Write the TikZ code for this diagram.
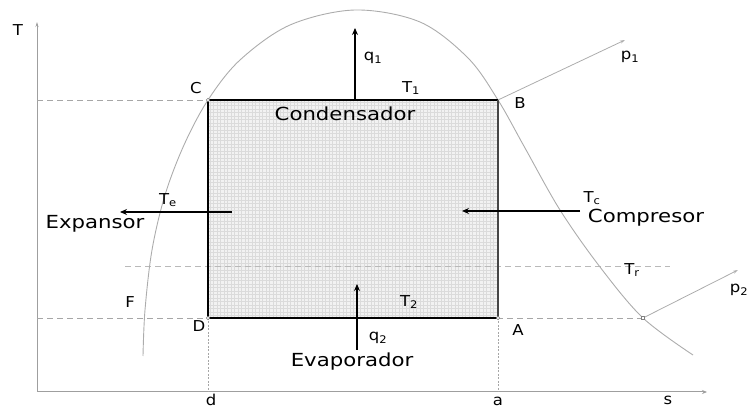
\documentclass[tikz,border=0pt]{standalone}
\usepackage{fontspec}
\setmainfont{DejaVu Sans}
\usetikzlibrary{arrows.meta}

\tikzset{
  lbl/.style={font=\fontsize{18}{20}\selectfont, xscale=1.18, transform shape, inner sep=1pt},
  pnt/.style={font=\fontsize{15}{17}\selectfont, xscale=1.1, transform shape, inner sep=1pt},
  axisline/.style={gray!75, line width=1pt},
  guide/.style={gray!70, line width=0.7pt, dash pattern=on 6pt off 4pt},
  dotline/.style={gray!70, line width=0.7pt, dash pattern=on 2pt off 1.5pt},
  dome/.style={gray!65, line width=0.9pt},
  heat/.style={black, line width=1.6pt, -{Stealth[length=7pt,width=6pt]}},
  corner/.style={circle, draw=gray, fill=white, inner sep=1.2pt, line width=0.5pt}
}

\begin{document}
\begin{tikzpicture}[x=1pt, y=1pt]
  \useasboundingbox (0,0) rectangle (748,410);
  % axes
  \coordinate (O) at (37,18);
  \coordinate (Ttop) at (37,388);
  \coordinate (Send) at (707,18);
  \draw[axisline, -{Stealth[length=5pt,width=3pt]}] (O) -- (Ttop);
  \draw[axisline, -{Stealth[length=5pt,width=4pt]}] (O) -- (Send);
  \node[pnt] (Tlab) at (18,380) {T};
  \node[pnt, anchor=base, inner sep=0pt] (slab) at (668,5) {s};
  % cycle corners
  \coordinate (C) at (208,310);
  \coordinate (B) at (498,310);
  \coordinate (A) at (498,92);
  \coordinate (D) at (208,92);
  \coordinate (X) at (643,92);
  % shaded area
  \fill[gray!10] (C) rectangle (A);
  \draw[gray!28, line width=0.25pt, step=3.5] (D) grid (B);
  % guide lines
  \coordinate (Cax) at (37,310);
  \coordinate (Dax) at (37,92);
  \coordinate (dd) at (208,18);
  \coordinate (aa) at (498,18);
  \coordinate (Trl) at (125,144);
  \coordinate (Trr) at (670,144);
  \draw[guide] (Cax) -- (C);
  \draw[guide] (Dax) -- (X);
  \draw[guide, gray!55] (Trl) -- (Trr);
  \draw[dotline] (D) -- (dd);
  \draw[dotline] (A) -- (aa);
  \node[pnt, anchor=base, inner sep=0pt] (dlab) at (211,4.5) {d};
  \node[pnt, anchor=base, inner sep=0pt] (alab) at (498,4.5) {a};
  % saturation dome
  \draw[dome] plot[smooth, tension=0.55] coordinates {(143,54) (145,100) (152,160) (165,215) (184,265) (208,310) (240,350) (290,385) (355,400) (420,388) (468,352) (498,310) (525,262) (560,200) (600,143) (643,92) (693,55)};
  % cycle
  \draw[black, line width=1.8pt] (C) -- (B);
  \draw[black, line width=1.8pt] (D) -- (A);
  \draw[black, line width=2.4pt] (C) -- (D);
  \draw[gray!55!black, line width=2.6pt] (B) -- (A);
  \node[corner] at (C) {};
  \node[corner] at (D) {};
  \node[corner] at (A) {};
  \node[rectangle, draw=gray, fill=white, inner sep=1.6pt, line width=0.5pt] (Xbox) at (X) {};
  % isobars
  \coordinate (p1end) at (625,370);
  \coordinate (p2end) at (738,140);
  \draw[gray!65, line width=0.8pt, -{Stealth[length=5pt,width=3pt]}] (B) -- (p1end);
  \draw[gray!65, line width=0.8pt, -{Stealth[length=5pt,width=3pt]}] (Xbox) -- (p2end);
  \node[pnt] (p1lab) at (630,353) {p\textsubscript{1}};
  \node[pnt] (p2lab) at (739,120) {p\textsubscript{2}};
  % point labels
  \node[pnt] (Clab) at (196,322) {C};
  \node[pnt] (Blab) at (520,307) {B};
  \node[pnt] (Dlab) at (199,84) {D};
  \node[pnt] (Alab) at (518,80) {A};
  \node[pnt] (Flab) at (130,108) {F};
  % condenser
  \coordinate (q1a) at (355,310);
  \coordinate (q1b) at (355,382);
  \draw[heat] (q1a) -- (q1b);
  \node[pnt] (q1lab) at (373,352) {q\textsubscript{1}};
  \node[pnt] (T1lab) at (411,322) {T\textsubscript{1}};
  \node[lbl] (cond) at (345,296) {Condensador};
  % evaporator
  \coordinate (q2a) at (357,60);
  \coordinate (q2b) at (357,126);
  \draw[heat] (q2a) -- (q2b);
  \node[pnt] (q2lab) at (378,72) {q\textsubscript{2}};
  \node[pnt] (T2lab) at (409,108) {T\textsubscript{2}};
  \node[lbl] (evap) at (352,48) {Evaporador};
  % expansion
  \coordinate (tea) at (232,198);
  \coordinate (teb) at (120,198);
  \draw[heat, line width=1.3pt] (tea) -- (teb);
  \node[pnt] (Telab) at (168,210) {T\textsubscript{e}};
  \node[lbl] (expa) at (95,186) {Expansor};
  % compression
  \coordinate (tca) at (580,199);
  \coordinate (tcb) at (462,199);
  \draw[heat, line width=1.3pt] (tca) -- (tcb);
  \node[pnt] (Tclab) at (592,212) {T\textsubscript{c}};
  \node[lbl] (comp) at (646,192) {Compresor};
  \node[pnt] (Trlab) at (632,140) {T\textsubscript{r}};
\end{tikzpicture}
\end{document}
